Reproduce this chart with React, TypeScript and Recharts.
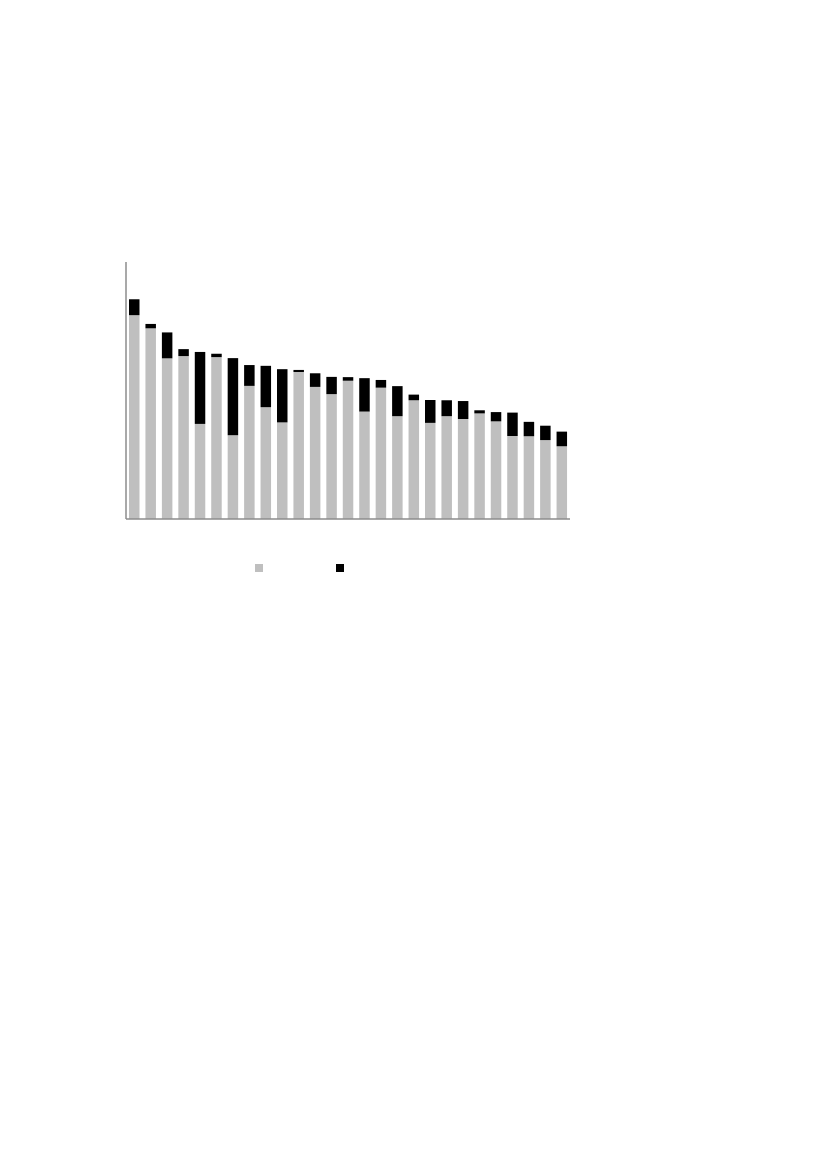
import { BarChart, Bar, XAxis, YAxis, Legend } from "recharts";

// 27 categories, sorted by total (no labels shown in the original)
const categories = Array.from({ length: 27 }, (_, i) => `C${i + 1}`);

const baseValues = [
    79.3, 74.2, 62.5, 63.4, 37.0, 63.0, 32.6, 51.8, 43.5, 37.6, 57.2, 51.4, 48.6, 53.8,
    41.8, 51.1, 40.0, 46.2, 37.4, 40.0, 38.9, 41.1, 38.0, 32.3, 32.2, 30.7, 28.3,
];

const extraValues = [
    6.2, 1.7, 10.1, 2.7, 28.0, 1.3, 30.0, 8.1, 16.1, 20.7, 0.8, 5.3, 6.7, 1.4,
    13.0, 3.0, 11.7, 2.2, 8.9, 6.2, 7.0, 1.2, 3.6, 9.1, 5.6, 5.6, 5.7,
];

const GREY = "#bfbfbf";
const BLACK = "#000000";
const AXIS = "#8c8c8c";

const data = categories.map((name, i) => ({
    name,
    base: baseValues[i],
    extra: extraValues[i],
}));

// legend shows only the two swatches
function SwatchLegend() {
    return (
        <div style={{ display: "flex", paddingLeft: 247, height: 8 }}>
            <span style={{ width: 8, height: 8, background: GREY, display: "inline-block" }} />
            <span style={{ width: 8, height: 8, background: BLACK, display: "inline-block", marginLeft: 73 }} />
        </div>
    );
}

export default function App() {
    return (
        <div style={{ width: 600, height: 600 }}>
            <BarChart
                width={600}
                height={600}
                data={data}
                margin={{ top: 254, right: 38, bottom: 88, left: 117 }}
                barSize={10.5}
            >
                <XAxis dataKey="name" height={1} tick={false} tickLine={false} axisLine={{ stroke: AXIS, strokeWidth: 1.5 }} />
                <YAxis width={1} domain={[0, 100]} tick={false} tickLine={false} axisLine={{ stroke: AXIS, strokeWidth: 1.5 }} />
                <Legend
                    verticalAlign="middle"
                    layout="horizontal"
                    wrapperStyle={{ top: 556, left: 0, width: 600 }}
                    content={() => <SwatchLegend />}
                />
                <Bar dataKey="base" stackId="a" fill={GREY} isAnimationActive={false} />
                <Bar dataKey="extra" stackId="a" fill={BLACK} isAnimationActive={false} />
            </BarChart>
        </div>
    );
}
